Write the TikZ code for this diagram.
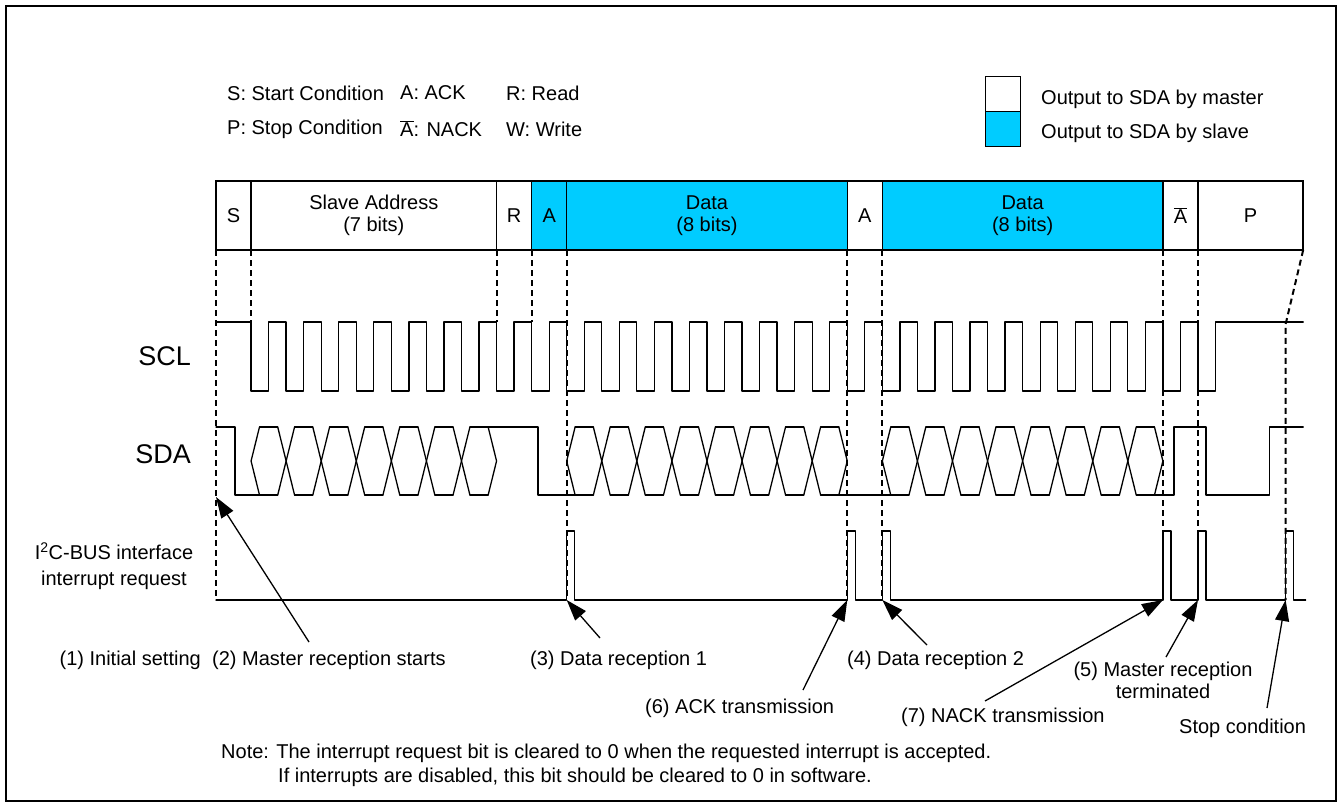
\documentclass[tikz,border=0pt]{standalone}
\usepackage{fontspec}
\setmainfont{Liberation Sans}
\usetikzlibrary{arrows.meta}
\definecolor{slaveblue}{RGB}{0,204,255}

\begin{document}
\begin{tikzpicture}[
  x=1pt, y=-1pt,
  every node/.style={font=\fontsize{20}{22}\selectfont, inner sep=0pt},
  wave/.style={line width=1.3pt, line cap=round, line join=round},
  guide/.style={line width=2pt, dash pattern=on 6pt off 4pt},
  bitbox/.style={draw, line width=1.4pt, minimum height=69pt, align=center},
  keybox/.style={draw, line width=1.4pt, minimum width=35pt, minimum height=35pt},
  pointer/.style={line width=1.3pt, -{Triangle[length=21pt,width=14pt]}},
  sig/.style={font=\fontsize{27}{30}\selectfont, anchor=east}
]
\useasboundingbox (0,0) rectangle (1343,807);

% frame
\draw[line width=1.3pt] (6,6) rectangle (1336,801);

% symbol key
\node[anchor=west] (kS) at (227,93) {S: Start Condition};
\node[anchor=west] (kA) at (400,93) {A: ACK};
\node[anchor=west] (kR) at (506,93) {R: Read};
\node[anchor=west] (kP) at (227,129) {P: Stop Condition};
\node[anchor=west] (kN) at (400,129) {$\overline{\mbox{A}}$: NACK};
\node[anchor=west] (kW) at (506,129) {W: Write};

% colour key
\node[keybox, fill=white] (kMaster) at (1003,94) {};
\node[keybox, fill=slaveblue] (kSlave) at (1003,129) {};
\node[anchor=west] (kMasterTxt) at (1041,99) {Output to SDA by master};
\node[anchor=west] (kSlaveTxt) at (1041,133) {Output to SDA by slave};

% signal names
\node[sig] (scl) at (191,356) {SCL};
\node[sig] (sda) at (191,454) {SDA};
\node[align=center, font=\fontsize{20}{26}\selectfont] (irq) at (114,566)
  {I\textsuperscript{2}C-BUS interface\\interrupt request};

% timing, one unit = one bit
\begin{scope}[shift={(216pt,0pt)}, x=35.07pt]
  % bit frame
  \foreach \nm/\a/\b/\col/\txt in {bS/0/1/white/S,
      bAddr/1/8/white/{Slave Address\\(7 bits)}, bR/8/9/white/R,
      bAck1/9/10/slaveblue/A, bData1/10/18/slaveblue/{Data\\(8 bits)},
      bAck2/18/19/white/A, bData2/19/27/slaveblue/{Data\\(8 bits)},
      bNack/27/28/white/{$\overline{\mbox{A}}$}, bP/28/31/white/P}
    \node[bitbox, fill=\col, minimum width={(\b-\a)*35.07pt}] (\nm)
      at ({(\a+\b)/2},215.5) {\txt};

  % guides
  \foreach \c in {1,8,9}
    \draw[guide] (\c,250) -- (\c,322);
  \foreach \c in {0,10,18,19,27,28}
    \draw[guide] (\c,250) -- (\c,600);
  \draw[guide] (31,250) -- (30.5,324) -- (30.5,600);

  % SCL
  \draw[wave] (0,322) -- (1,322)
    \foreach \k in {1,...,28} { -- (\k,391) -- (\k+0.5,391) -- (\k+0.5,322) -- (\k+1,322) }
    -- (31,322);

  % SDA
  \def\trw{0.24}
  \draw[wave] (0,427) -- (0.54,427) -- (0.54,495) -- (1+\trw,495);
  \draw[wave] (8-\trw,427) -- (9.18,427) -- (9.18,495) -- (10+\trw,495);
  \draw[wave] (18-\trw,495) -- (19+\trw,495);
  \draw[wave] (27-\trw,495) -- (27.32,495) -- (27.32,427) -- (28.23,427)
    -- (28.23,495) -- (30.03,495) -- (30.03,427) -- (31,427);
  \foreach \s/\n in {1/7,10/8,19/8} {
    \draw[wave] (\s+\trw,427) -- (\s,461) -- (\s+\trw,495);
    \draw[wave] (\s+\n-\trw,427) -- (\s+\n,461) -- (\s+\n-\trw,495);
    \foreach \j in {1,...,\n} {
      \draw[wave] (\s+\j-1+\trw,427) -- (\s+\j-\trw,427);
      \draw[wave] (\s+\j-1+\trw,495) -- (\s+\j-\trw,495);
    }
    \pgfmathtruncatemacro{\nlast}{\n-1}
    \foreach \j in {1,...,\nlast} {
      \draw[wave] (\s+\j-\trw,427) -- (\s+\j+\trw,495);
      \draw[wave] (\s+\j-\trw,495) -- (\s+\j+\trw,427);
    }
  }

  % interrupt request
  \draw[wave] (0,600)
    \foreach \p in {10,18,19,27,28,30.5} { -- (\p,600) -- (\p,531) -- (\p+0.23,531) -- (\p+0.23,600) }
    -- (31.07,600);

  % arrow targets
  \coordinate (tStart) at (0,497);
  \coordinate (tRecv1) at (10,600);
  \coordinate (tAck) at (18,600);
  \coordinate (tRecv2) at (19,600);
  \coordinate (tNack) at (27,600);
  \coordinate (tEnd) at (28,600);
  \coordinate (tStop) at (30.5,600);
\end{scope}

% event labels
\node[anchor=east] (lInit) at (201,660) {(1) Initial setting};
\node[anchor=west] (lStart) at (212,660) {(2) Master reception starts};
\node[anchor=west] (lRecv1) at (530,660) {(3) Data reception 1};
\node[anchor=west] (lRecv2) at (847,660) {(4) Data reception 2};
\node[align=center] (lEnd) at (1163,680) {(5) Master reception\\terminated};
\node[anchor=west] (lAck) at (645,708) {(6) ACK transmission};
\node[anchor=west] (lNack) at (901,717) {(7) NACK transmission};
\node[anchor=west] (lStop) at (1179,728) {Stop condition};

% arrows
\coordinate (sStart) at (309,642);
\coordinate (sRecv1) at (600,638);
\coordinate (sAck) at (803,690);
\coordinate (sRecv2) at (927,645);
\coordinate (sNack) at (985,701);
\coordinate (sEnd) at (1166,657);
\coordinate (sStop) at (1267,708);
\foreach \a in {Start,Recv1,Ack,Recv2,Nack,End,Stop}
  \draw[pointer] (s\a) -- (t\a);

% note
\node[anchor=west] (note1) at (221,753)
  {Note: The interrupt request bit is cleared to 0 when the requested interrupt is accepted.};
\node[anchor=west] (note2) at (278,777)
  {If interrupts are disabled, this bit should be cleared to 0 in software.};

\end{tikzpicture}
\end{document}
